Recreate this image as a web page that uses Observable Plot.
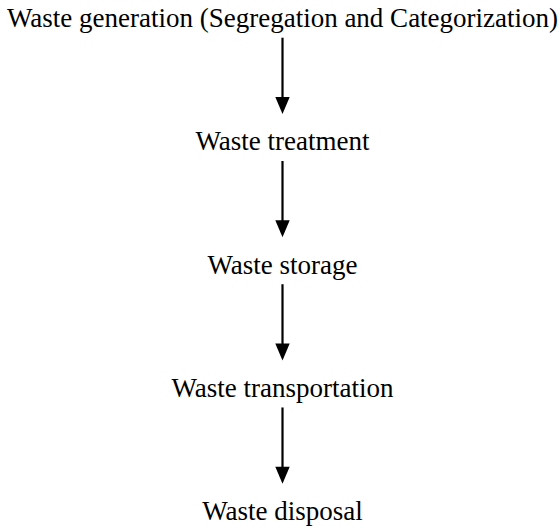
<!DOCTYPE html>
<html>
<head>
<meta charset="utf-8">
<script src="https://cdn.jsdelivr.net/npm/d3@7"></script>
<script src="https://cdn.jsdelivr.net/npm/@observablehq/plot@0.6"></script>
<style>
  html, body { margin: 0; padding: 0; background: #fff; }
  svg { display: block; }
</style>
</head>
<body>
<div id="chart"></div>
<script>
const steps = [
  "Waste generation (Segregation and Categorization)",
  "Waste treatment",
  "Waste storage",
  "Waste transportation",
  "Waste disposal"
];
const stepIndex = [0, 1, 2, 3, 4];

const nodes = steps.map((label, i) => ({label, i}));
const links = stepIndex.slice(0, -1).map(i => ({from: i, to: i + 1}));

const startGap = 0.16;
const endGap = 0.225;

const downTriangle = {
  draw(context, size) {
    const w = 7.2, h = 17;
    context.moveTo(-w, -h);
    context.lineTo(w, -h);
    context.lineTo(0, 0);
    context.closePath();
  }
};

const chart = Plot.plot({
  width: 560,
  height: 528,
  marginLeft: 4,
  marginRight: 0,
  marginTop: 18,
  marginBottom: 17,
  x: {domain: [0, 1], axis: null},
  y: {domain: [0, 4], axis: null, reverse: true},
  marks: [
    Plot.text(nodes, {
      x: () => 0.5,
      y: "i",
      text: "label",
      fontFamily: "Liberation Serif",
      fontSize: 27,
      fill: "black",
      textAnchor: "middle",
      lineAnchor: "middle"
    }),
    Plot.ruleX(links, {
      x: () => 0.5,
      y1: d => d.from + startGap,
      y2: d => d.to - endGap - 0.08,
      stroke: "black",
      strokeWidth: 2.2
    }),
    Plot.dot(links, {
      x: () => 0.5,
      y: d => d.to - endGap,
      symbol: downTriangle,
      r: 1,
      fill: "black",
      stroke: "none"
    })
  ]
});
chart.style.background = "#fff";
document.getElementById("chart").append(chart);
</script>
</body>
</html>
